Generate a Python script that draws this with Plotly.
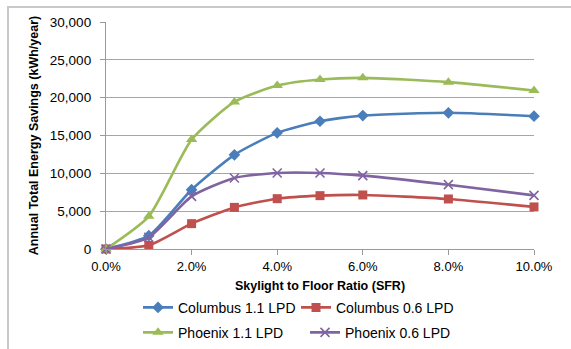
import plotly.graph_objects as go

# Skylight to floor ratio (fraction) and annual savings per scenario (kWh/year)
sfr = [0.00, 0.01, 0.02, 0.03, 0.04, 0.05, 0.06, 0.08, 0.10]
columbus_11 = [0, 1760, 7840, 12450, 15350, 16880, 17630, 18000, 17550]
columbus_06 = [0, 480, 3350, 5500, 6650, 7050, 7140, 6610, 5560]
phoenix_11 = [0, 4320, 14460, 19440, 21600, 22400, 22620, 22050, 20950]
phoenix_06 = [0, 1550, 6960, 9390, 10050, 10050, 9700, 8500, 7090]

series = [
    ("Columbus 1.1 LPD", columbus_11, "#4a7ebb", "diamond", 9, "legend"),
    ("Columbus 0.6 LPD", columbus_06, "#c0504d", "square", 9, "legend"),
    ("Phoenix 1.1 LPD", phoenix_11, "#9bbb59", "triangle-up", 10, "legend2"),
    ("Phoenix 0.6 LPD", phoenix_06, "#8064a2", "x-thin", 9, "legend2"),
]

FONT = "Liberation Sans, Arial, sans-serif"

fig = go.Figure()
for name, vals, color, sym, size, leg in series:
    marker = dict(symbol=sym, size=size, color=color)
    if sym == "x-thin":
        marker["line"] = dict(color=color, width=1.6)
    fig.add_trace(go.Scatter(
        x=sfr, y=vals, name=name, mode="lines+markers",
        line=dict(color=color, width=2.6, shape="spline", smoothing=0.6),
        marker=marker, cliponaxis=False, legend=leg,
    ))

legend_common = dict(
    orientation="h", xanchor="left", yanchor="middle",
    font=dict(family=FONT, size=14, color="#000000"),
    bgcolor="rgba(0,0,0,0)", entrywidthmode="pixels", itemwidth=30,
)

fig.update_layout(
    width=571, height=349,
    margin=dict(l=106, r=37, t=22, b=100, autoexpand=False),
    paper_bgcolor="#ffffff", plot_bgcolor="#ffffff",
    font=dict(family=FONT, size=13, color="#000000"),
    xaxis=dict(
        range=[0, 0.10], tickvals=[0, 0.02, 0.04, 0.06, 0.08, 0.10],
        tickformat=".1%", showgrid=False, zeroline=False,
        showline=True, linecolor="#9a9a9a", linewidth=1.3,
        ticks="outside", ticklen=5, tickcolor="#9a9a9a",
        tickfont=dict(family=FONT, size=13),
        title=dict(text="<b>Skylight to Floor Ratio (SFR)</b>",
                   font=dict(family=FONT, size=12.5), standoff=8),
    ),
    yaxis=dict(
        range=[0, 30000], dtick=5000, tickformat=",",
        showgrid=True, gridcolor="#a6a6a6", gridwidth=1.3, zeroline=False,
        showline=True, linecolor="#9a9a9a", linewidth=1.3,
        ticks="outside", ticklen=5, tickcolor="#9a9a9a",
        ticklabelstandoff=6,
        tickfont=dict(family=FONT, size=13.5),
        title=dict(text="<b>Annual Total Energy Savings (kWh/year)</b>",
                   font=dict(family=FONT, size=12.5), standoff=8),
    ),
    legend=dict(x=0.0748, y=-0.259, entrywidth=113, **legend_common),
    legend2=dict(x=0.0748, y=-0.369, entrywidth=122, **legend_common),
    shapes=[dict(
        type="rect", xref="paper", yref="paper",
        x0=-0.229, y0=-2, x1=2, y1=1.066,
        line=dict(color="#c8c8c8", width=2), fillcolor="rgba(0,0,0,0)",
    )],
)

fig.write_html("out.html")
